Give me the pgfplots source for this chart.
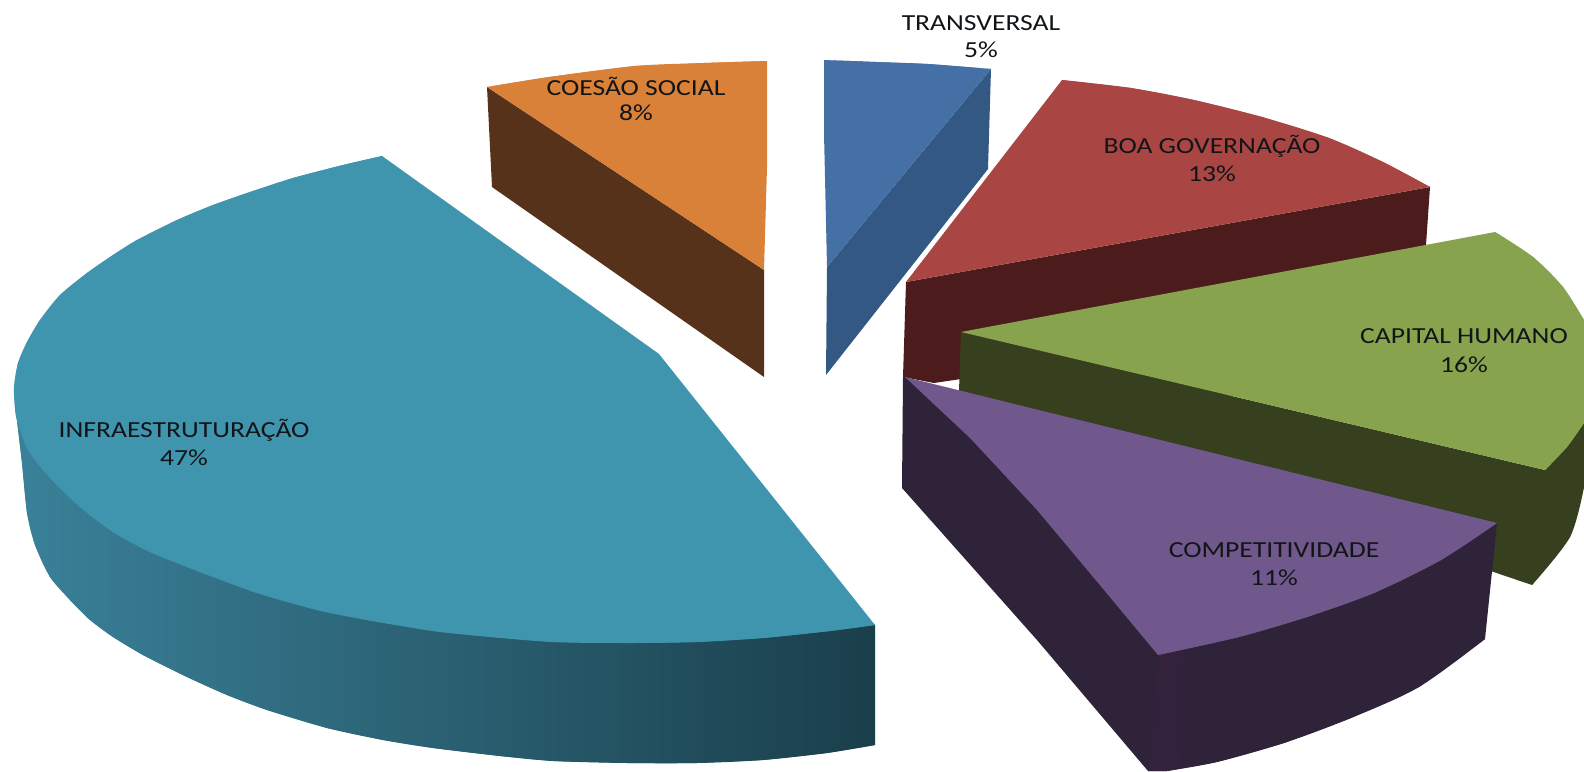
\documentclass[border=0pt]{standalone}
\usepackage{fontspec}
\setmainfont{Carlito}
\usepackage{pgfplots}
\pgfplotsset{compat=1.18}
\definecolor{infratop}{HTML}{4095AE}
\definecolor{infraA}{HTML}{3A8199}
\definecolor{infraB}{HTML}{2C6374}
\definecolor{infraC}{HTML}{1A3F4B}
\definecolor{orangetop}{HTML}{D98039}
\definecolor{orangeside}{HTML}{57321A}
\definecolor{bluetop}{HTML}{4470A5}
\definecolor{blueside}{HTML}{335883}
\definecolor{redtop}{HTML}{A94644}
\definecolor{redside}{HTML}{4C1C1C}
\definecolor{greentop}{HTML}{87A34E}
\definecolor{greenside}{HTML}{363F1E}
\definecolor{purpletop}{HTML}{70578C}
\definecolor{purpleside}{HTML}{2E2338}
\definecolor{purplelight}{HTML}{33223C}
\definecolor{labeltext}{HTML}{111518}
\newcommand{\lab}[3]{\node[text=labeltext,font=\fontsize{23}{26}\selectfont,inner sep=0pt,anchor=center,xscale=1.2] at (axis cs:#1,#2) {#3};}
\begin{document}
\begin{tikzpicture}
\begin{axis}[hide axis,scale only axis,width=1584pt,height=771pt,
  xmin=0,xmax=1584,ymin=0,ymax=771,y dir=reverse,clip=false,no markers]
% page corners
\addplot[draw=none] coordinates {(0,0)(1584,771)};
% INFRAESTRUTURACAO 47%
\addplot[draw=none,left color=infraA,middle color=infraB,right color=infraC] coordinates {
 (14,387)(17,420)(22,463)(27,513)(35,545)(50,577)(70,600)(90,620)(113,637)(143,655)(187,677)(227,695)(267,710)(327,728)(383,740)(433,748)(500,756)(553,761)(627,763)(697,763)(763,760)(827,753)(875,745)(875,625)(500,500)};
\addplot[smooth,draw=none,left color=infraA,middle color=infraB,right color=infraC] coordinates {
 (14,387)(17,420)(22,463)(27,513)(35,545)(50,577)(70,600)(90,620)(113,637)(143,655)(187,677)(227,695)(267,710)(327,728)(383,740)(433,748)(500,756)(553,761)(627,763)(697,763)(763,760)(827,753)(875,745)};
\addplot[draw=none,fill=infratop] coordinates {
 (382,156)(343,165)(293,178)(250,192)(213,205)(177,220)(137,240)(113,255)(87,273)(60,295)(40,320)(27,342)(18,363)(14,387)(15,408)(17,420)(28,450)(50,478)(80,507)(113,532)(150,552)(200,572)(257,593)(317,610)(367,620)(433,631)(480,636)(553,642)(630,643)(697,642)(763,638)(830,631)(875,625)(659,354)};
\addplot[smooth,draw=none,fill=infratop] coordinates {
 (382,156)(343,165)(293,178)(250,192)(213,205)(177,220)(137,240)(113,255)(87,273)(60,295)(40,320)(27,342)(18,363)(14,387)(15,408)(17,420)(28,450)(50,478)(80,507)(113,532)(150,552)(200,572)(257,593)(317,610)(367,620)(433,631)(480,636)(553,642)(630,643)(697,642)(763,638)(830,631)(875,625)};
% COESAO SOCIAL 8%
\addplot[draw=none,fill=orangeside] coordinates {(487,87)(492,187)(764,377)(764,270)};
\addplot[draw=none,fill=orangetop] coordinates {(767,61)(704,63)(635,66)(549,77)(487,87)(764,270)(767,167)};
\addplot[smooth,draw=none,fill=orangetop] coordinates {(767,61)(704,63)(635,66)(549,77)(487,87)};
% TRANSVERSAL 5%
\addplot[draw=none,fill=blueside] coordinates {(991,69)(988,169)(826,375)(827,267)};
\addplot[draw=none,fill=bluetop] coordinates {(824,60)(876,62)(928,64)(991,69)(827,267)(824,133)};
\addplot[smooth,draw=none,fill=bluetop] coordinates {(824,60)(876,62)(928,64)(991,69)};
% BOA GOVERNACAO 13%
\addplot[draw=none,fill=redside] coordinates {(906,282)(1430,187)(1426,245)(1300,400)(961,379)(934,383)(903,377)};
\addplot[draw=none,fill=redtop] coordinates {(906,282)(1062,80)(1131,88)(1194,100)(1262,117)(1329,138)(1383,162)(1430,187)};
\addplot[smooth,draw=none,fill=redtop] coordinates {(1062,80)(1131,88)(1194,100)(1262,117)(1329,138)(1383,162)(1430,187)};
% CAPITAL HUMANO 16%
\addplot[draw=none,fill=greenside] coordinates {(961,332)(1545,470)(1584,423)(1584,487)(1570,537)(1532,585)(959,391)};
\addplot[smooth,draw=none,fill=greenside] coordinates {(1584,487)(1570,537)(1532,585)};
\addplot[draw=none,fill=greentop] coordinates {(961,332)(1495,232)(1533,257)(1563,287)(1584,320)(1584,423)(1567,447)(1545,470)};
\addplot[smooth,draw=none,fill=greentop] coordinates {(1495,232)(1533,257)(1563,287)(1584,320)};
\addplot[smooth,draw=none,fill=greentop] coordinates {(1584,423)(1567,447)(1545,470)};
% COMPETITIVIDADE 11%
\addplot[draw=none,fill=purpleside] coordinates {(905,377)(903,377)(902,488)(1037,640)(1148,771)(1167,771)(1217,762)(1284,743)(1351,718)(1419,687)(1485,639)(1497,523)(1300,500)(1037,450)};
\addplot[smooth,draw=none,fill=purpleside] coordinates {(1167,771)(1217,762)(1284,743)(1351,718)(1419,687)(1485,639)};
\addplot[draw=none,fill=purplelight] coordinates {(1158,655)(1148,771)(1167,771)(1182,767)(1184,650)};
\addplot[draw=none,fill=purpletop] coordinates {(905,377)(1497,523)(1441,560)(1374,593)(1307,617)(1239,637)(1158,655)(1104,590)(1037,510)(970,438)};
\addplot[smooth,draw=none,fill=purpletop] coordinates {(1497,523)(1441,560)(1374,593)(1307,617)(1239,637)(1158,655)};
% labels
\lab{184}{430}{INFRAESTRUTURAÇÃO}
\lab{184}{458}{47\%}
\lab{636}{86}{COESÃO SOCIAL}
\lab{636}{113}{8\%}
\lab{981}{23}{TRANSVERSAL}
\lab{981}{50}{5\%}
\lab{1212}{146}{BOA GOVERNAÇÃO}
\lab{1212}{174}{13\%}
\lab{1464}{336}{CAPITAL HUMANO}
\lab{1464}{365}{16\%}
\lab{1274}{550}{COMPETITIVIDADE}
\lab{1274}{578}{11\%}
\end{axis}
\end{tikzpicture}
\end{document}
